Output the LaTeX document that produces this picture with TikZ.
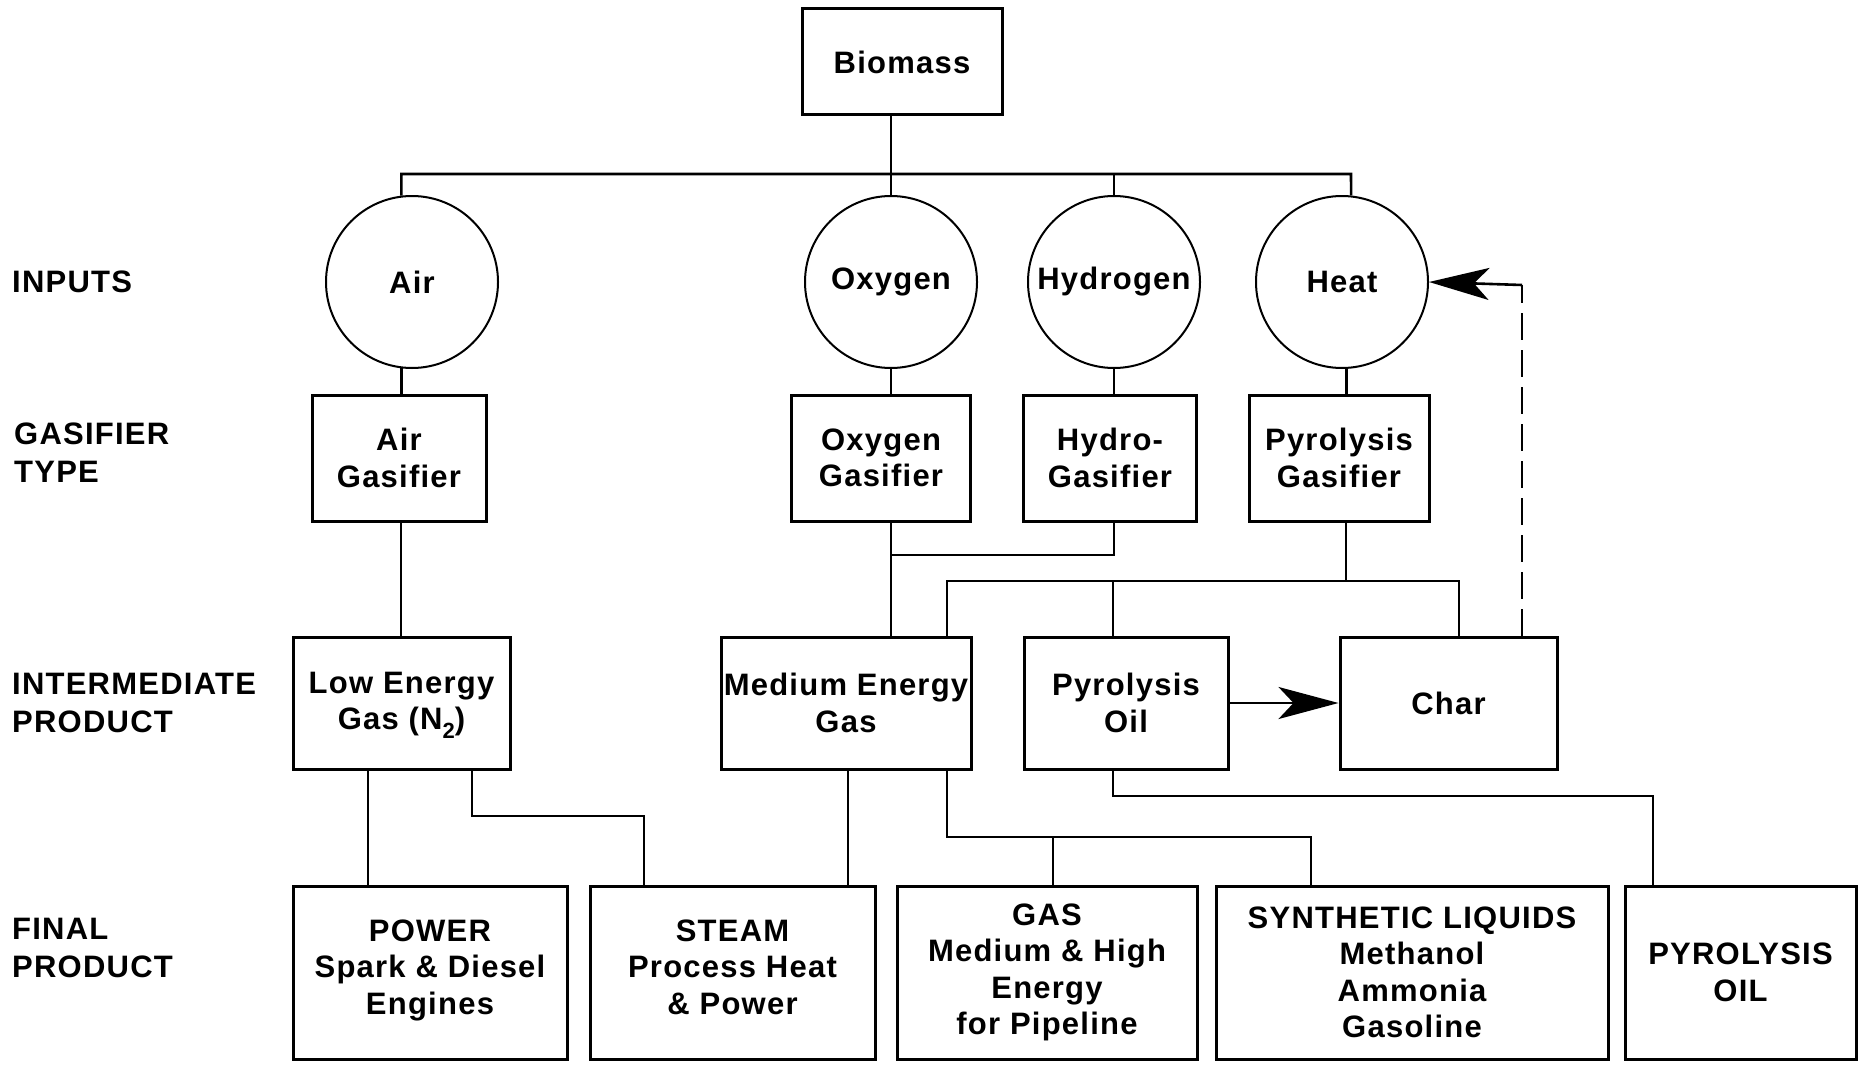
\documentclass[tikz,border=0pt]{standalone}
\usepackage{fontspec}
\setmainfont{Liberation Sans}[LetterSpace=4]
\usetikzlibrary{arrows.meta}
\begin{document}
\begin{tikzpicture}[x=1pt,y=-1pt,
  box/.style={draw,line width=3pt,rectangle,align=center,inner sep=0pt,font=\fontsize{31}{36.5}\selectfont\bfseries},
  circ/.style={draw,line width=2pt,circle,minimum size=172pt,inner sep=0pt,font=\fontsize{31}{36.5}\selectfont\bfseries},
  lbl/.style={anchor=west,align=left,inner sep=0pt,font=\fontsize{31}{38}\selectfont\bfseries},
  conn/.style={line width=2.6pt},
  bigarrow/.style={-{Stealth[length=60pt,width=32pt,inset=15pt]}}
]
\useasboundingbox (0,0) rectangle (1860,1070);
% top
\node[box,minimum width=200pt,minimum height=106pt] (bio) at (902,62) {Biomass};
% inputs
\node[circ] (air) at (412,282) {Air};
\node[circ] (oxy) at (891,282) {Oxygen};
\node[circ] (hyd) at (1114,282) {Hydrogen};
\node[circ] (heat) at (1342,282) {Heat};
% gasifiers
\node[box,minimum width=174pt,minimum height=126pt] (airg) at (399,458) {Air\\Gasifier};
\node[box,minimum width=179pt,minimum height=126pt] (oxyg) at (881,458) {Oxygen\\Gasifier};
\node[box,minimum width=173pt,minimum height=126pt] (hydg) at (1110,458) {Hydro-\\Gasifier};
\node[box,minimum width=180pt,minimum height=126pt] (pyrg) at (1339,458) {Pyrolysis\\Gasifier};
% intermediate
\node[box,minimum width=217pt,minimum height=132pt] (low) at (401.5,703) {\strut Low Energy\\Gas (N{\fontsize{22}{22}\selectfont\raisebox{-9pt}{2}})};
\node[box,minimum width=250pt,minimum height=132pt] (med) at (846,703) {Medium Energy\\Gas};
\node[box,minimum width=204pt,minimum height=132pt] (poil) at (1126,703) {Pyrolysis\\Oil};
\node[box,minimum width=217pt,minimum height=132pt] (char) at (1448.5,703) {Char};
% final
\node[box,minimum width=274pt,minimum height=173pt] (power) at (430,972.5) {POWER\\Spark \& Diesel\\Engines\strut};
\node[box,minimum width=285pt,minimum height=173pt] (steam) at (732.5,972.5) {STEAM\\Process Heat\\\& Power\strut};
\node[box,minimum width=300pt,minimum height=173pt] (gas) at (1047,972.5) {GAS\\Medium \& High\\Energy\\for Pipeline};
\node[box,minimum width=392pt,minimum height=173pt] (syn) at (1412,972.5) {SYNTHETIC LIQUIDS\\Methanol\\Ammonia\\Gasoline};
\node[box,minimum width=231pt,minimum height=173pt] (pyro) at (1740.5,972.5) {PYROLYSIS\\OIL};
% left labels
\node[lbl] (l1) at (12,282) {INPUTS};
\node[lbl] (l2) at (14,453) {GASIFIER\\TYPE};
\node[lbl] (l3) at (12,703) {INTERMEDIATE\\PRODUCT};
\node[lbl] (l4) at (12,948) {FINAL\\PRODUCT};
% coordinates
\coordinate (busL) at (401,174);
\coordinate (busR) at (1351,174);
\coordinate (hj) at (891,555);
\coordinate (pbus) at (1346,581);
\coordinate (lowj) at (472,816);
\coordinate (medj) at (947,837);
\coordinate (poj) at (1113,796);
\coordinate (dashc) at (1522,285);
% connectors top
\draw[conn] (bio.south -| oxy.north) -- (oxy.north |- busL);
\draw[conn] (air.97) -- (air.97 |- busL) -- (busR) -- (heat.84);
\draw[conn] (hyd.north) -- (hyd.north |- busL);
\draw[conn] (oxy.north) -- (oxy.north |- busL);
% inputs to gasifiers
\draw[conn] (air.263) -- (air.263 |- airg.north);
\draw[conn] (oxy.south) -- (oxy.south |- oxyg.north);
\draw[conn] (hyd.south) -- (hyd.south |- hydg.north);
\draw[conn] (heat.273) -- (heat.273 |- pyrg.north);
% gasifiers to intermediate
\draw[conn] (airg.south -| busL) -- (busL |- low.north);
\draw[conn] (oxyg.south -| oxy.south) -- (oxy.south |- med.north);
\draw[conn] (hydg.south -| hyd.south) -- (hyd.south |- hj) -- (hj);
\draw[conn] (pyrg.south -| pbus) -- (pbus);
\draw[conn] (med.north -| 947,0) -- (947,581) -- (1459,581) -- (char.north -| 1459,0);
\draw[conn] (poil.north -| 1113,0) -- (1113,581);
% pyrolysis oil to char
\draw[conn,bigarrow] (poil.east) -- (char.west);
% dashed feedback
\draw[conn,dash pattern=on 27pt off 10pt] (char.north -| dashc) -- (dashc);
\draw[conn,bigarrow] (dashc) -- (heat.east);
% intermediate to final
\draw[conn] (low.south -| 368,0) -- (power.north -| 368,0);
\draw[conn] (low.south -| lowj) -- (lowj) -- (644,816) -- (steam.north -| 644,0);
\draw[conn] (med.south -| 848,0) -- (steam.north -| 848,0);
\draw[conn] (med.south -| medj) -- (medj) -- (1311,837) -- (syn.north -| 1311,0);
\draw[conn] (1053,837) -- (gas.north -| 1053,0);
\draw[conn] (poil.south -| poj) -- (poj) -- (1653,796) -- (pyro.north -| 1653,0);
\end{tikzpicture}
\end{document}
